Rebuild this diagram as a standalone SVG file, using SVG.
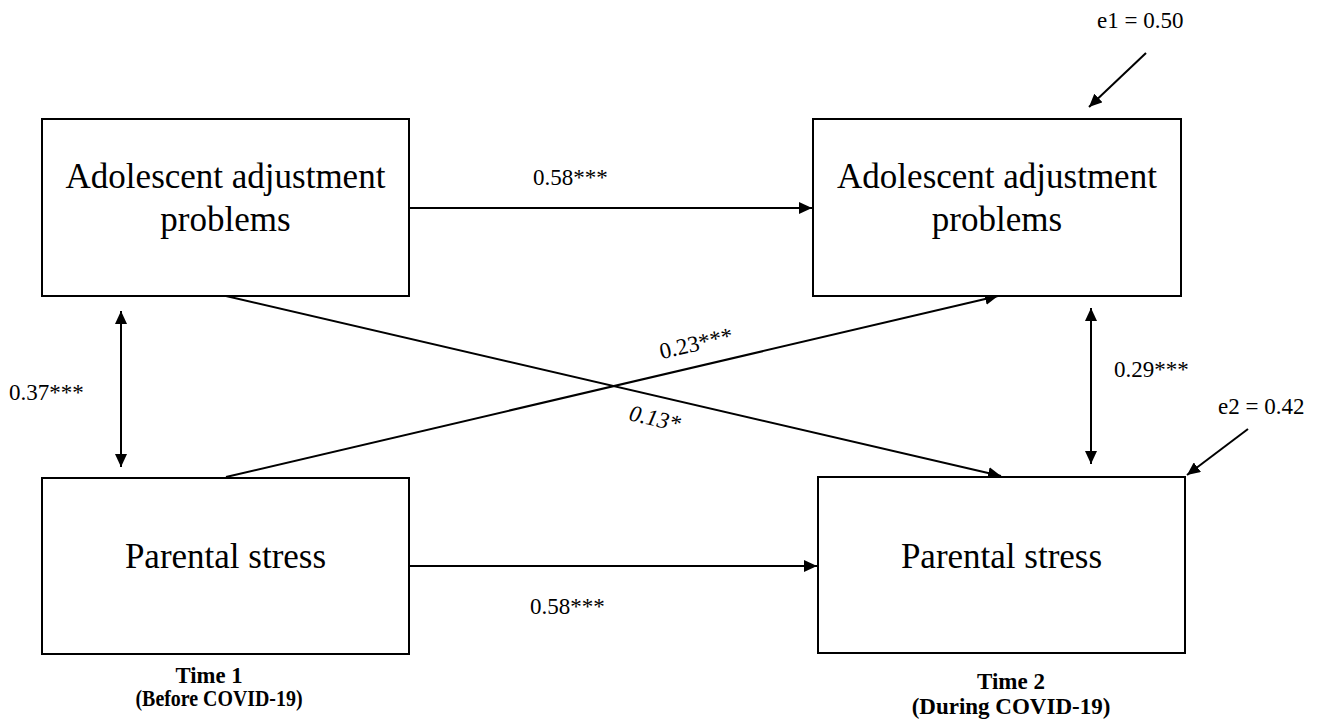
<svg xmlns="http://www.w3.org/2000/svg" width="1324" height="727" viewBox="0 0 1324 727">
<style>
  .box { fill: #fff; stroke: #000; stroke-width: 2; }
  .node { font-family: "Liberation Serif", "Times New Roman", serif; font-size: 35px; fill: #000; text-anchor: middle; }
  .lbl { font-family: "Liberation Serif", "Times New Roman", serif; font-size: 23px; fill: #000; }
  .time { font-family: "Liberation Serif", "Times New Roman", serif; font-size: 23px; font-weight: bold; fill: #000; text-anchor: middle; }
  .edge { stroke: #000; stroke-width: 2; fill: none; }
</style>
<defs>
  <marker id="ah" markerUnits="userSpaceOnUse" markerWidth="14" markerHeight="12" refX="13" refY="6" orient="auto-start-reverse">
    <path d="M0,0 L13,6 L0,12 z" fill="#000"/>
  </marker>
</defs>
<rect width="1324" height="727" fill="#fff"/>

<g id="connectors">
  <line class="edge" x1="409" y1="208" x2="812" y2="208" marker-end="url(#ah)"/>
  <line class="edge" x1="409" y1="566" x2="817" y2="566" marker-end="url(#ah)"/>
  <line class="edge" x1="121" y1="311" x2="121" y2="467" marker-start="url(#ah)" marker-end="url(#ah)"/>
  <line class="edge" x1="1091" y1="308" x2="1091" y2="464" marker-start="url(#ah)" marker-end="url(#ah)"/>
  <line class="edge" x1="226" y1="296" x2="1001" y2="476" marker-end="url(#ah)"/>
  <line class="edge" x1="226" y1="477" x2="998" y2="296" marker-end="url(#ah)"/>
  <line class="edge" x1="1146" y1="53" x2="1089" y2="107" marker-end="url(#ah)"/>
  <line class="edge" x1="1248" y1="429" x2="1187" y2="475" marker-end="url(#ah)"/>
  <text class="lbl" x="533" y="185">0.58***</text>
  <text class="lbl" x="530" y="614">0.58***</text>
  <text class="lbl" x="9" y="400">0.37***</text>
  <text class="lbl" x="1114" y="377">0.29***</text>
  <text class="lbl" x="1097" y="28">e1 = 0.50</text>
  <text class="lbl" x="1218" y="414">e2 = 0.42</text>
  <text class="lbl" text-anchor="middle" transform="translate(696,343) rotate(-13)" y="8">0.23***</text>
  <text class="lbl" text-anchor="middle" font-style="italic" transform="translate(655,418) rotate(13)" y="8">0.13*</text>
</g>

<g id="t1-adolescent">
  <rect class="box" x="42" y="119" width="367" height="177"/>
  <text class="node" x="225.5" y="188">Adolescent adjustment</text>
  <text class="node" x="225.5" y="231">problems</text>
</g>
<g id="t2-adolescent">
  <rect class="box" x="813" y="119" width="368" height="177"/>
  <text class="node" x="997" y="188">Adolescent adjustment</text>
  <text class="node" x="997" y="231">problems</text>
</g>
<g id="t1-parental">
  <rect class="box" x="42" y="478" width="367" height="176"/>
  <text class="node" x="225.5" y="568">Parental stress</text>
</g>
<g id="t2-parental">
  <rect class="box" x="818" y="477" width="367" height="176"/>
  <text class="node" x="1001.5" y="568">Parental stress</text>
</g>

<g id="time-labels">
  <text class="time" x="209" y="683" textLength="67" lengthAdjust="spacingAndGlyphs">Time 1</text>
  <text class="time" x="219" y="706" textLength="167" lengthAdjust="spacingAndGlyphs">(Before COVID-19)</text>
  <text class="time" x="1011" y="689">Time 2</text>
  <text class="time" x="1011" y="714">(During COVID-19)</text>
</g>
</svg>
